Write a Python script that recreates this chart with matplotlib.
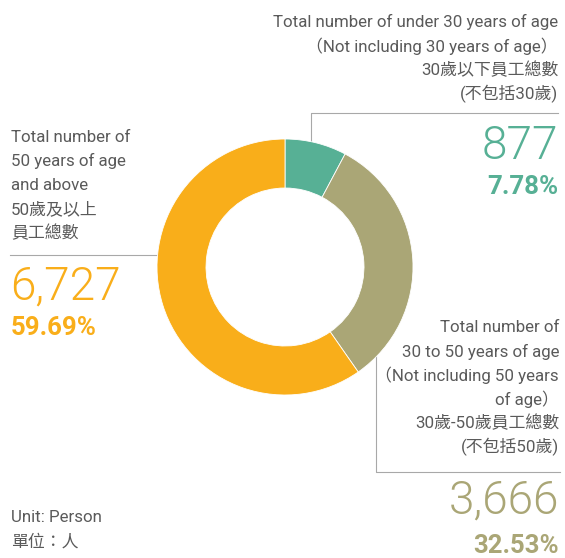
import matplotlib.pyplot as plt

# data
groups = ['under 30', '30 to 50', '50 and above']
counts = [877, 3666, 6727]
shares = [7.78, 32.53, 59.69]
colors = ['#57b095', '#aaa676', '#f9ae1a']

label_under30 = ['Total number of under 30 years of age',
                 '（Not including 30 years of age）',
                 '30歲以下員工總數',
                 '(不包括30歲)']
label_30to50 = ['Total number of',
                '30 to 50 years of age',
                '（Not including 50 years',
                'of age）',
                '30歲-50歲員工總數',
                '(不包括50歲)']
label_over50 = ['Total number of',
                '50 years of age',
                'and above',
                '50歲及以上',
                '員工總數']
unit_lines = ['Unit: Person', '單位：人']

W, H = 565, 558
fam = ['Roboto', 'Noto Sans CJK TC', 'DejaVu Sans']
grey = '#5a5a5a'
line_c = '#a8a8a8'
fs_lab = 12.2
fs_big = 33
fs_pct = 18.5

fig = plt.figure(figsize=(W / 100, H / 100), dpi=100)
ax = fig.add_axes([0, 0, 1, 1])

# y axis is flipped below, so the angles go the other way round
ax.pie(shares, colors=colors, center=(285, 267), radius=128,
       startangle=-90, counterclock=True,
       wedgeprops=dict(width=49, edgecolor='white', linewidth=0.6))
ax.set_xlim(0, W)
ax.set_ylim(H, 0)
ax.set_aspect('auto')
ax.axis('off')

# leader lines
ax.plot([311, 311, 558], [160, 113, 113], color=line_c, lw=0.8, zorder=0)
ax.plot([10, 170], [255, 255], color=line_c, lw=0.8, zorder=0)
ax.plot([376, 376, 560], [350, 472, 472], color=line_c, lw=0.8, zorder=0)

# under 30
for i, s in enumerate(label_under30):
    ax.text(558, 22 + 24 * i, s, ha='right', va='center', fontsize=fs_lab,
            color=grey, family=fam)
ax.text(558, 146, f'{counts[0]:,}', ha='right', va='center', fontsize=fs_big,
        color=colors[0], family=fam, fontweight=300)
ax.text(558, 187, f'{shares[0]:.2f}%', ha='right', va='center', fontsize=fs_pct,
        color=colors[0], family=fam, fontweight='bold')

# 50 and above
for i, s in enumerate(label_over50):
    ax.text(11, 137 + 24 * i, s, ha='left', va='center', fontsize=fs_lab,
            color=grey, family=fam)
ax.text(10, 287, f'{counts[2]:,}', ha='left', va='center', fontsize=fs_big,
        color=colors[2], family=fam, fontweight=300)
ax.text(11, 328, f'{shares[2]:.2f}%', ha='left', va='center', fontsize=fs_pct,
        color=colors[2], family=fam, fontweight='bold')

# 30 to 50
for i, s in enumerate(label_30to50):
    ax.text(559, 328 + 23.8 * i, s, ha='right', va='center', fontsize=fs_lab,
            color=grey, family=fam)
ax.text(559, 501, f'{counts[1]:,}', ha='right', va='center', fontsize=fs_big,
        color=colors[1], family=fam, fontweight=300)
ax.text(559, 546, f'{shares[1]:.2f}%', ha='right', va='center', fontsize=fs_pct,
        color=colors[1], family=fam, fontweight='bold')

# unit
for i, s in enumerate(unit_lines):
    ax.text(11, 517 + 25 * i, s, ha='left', va='center', fontsize=fs_lab,
            color=grey, family=fam)

fig.savefig('out.png', dpi=100)
